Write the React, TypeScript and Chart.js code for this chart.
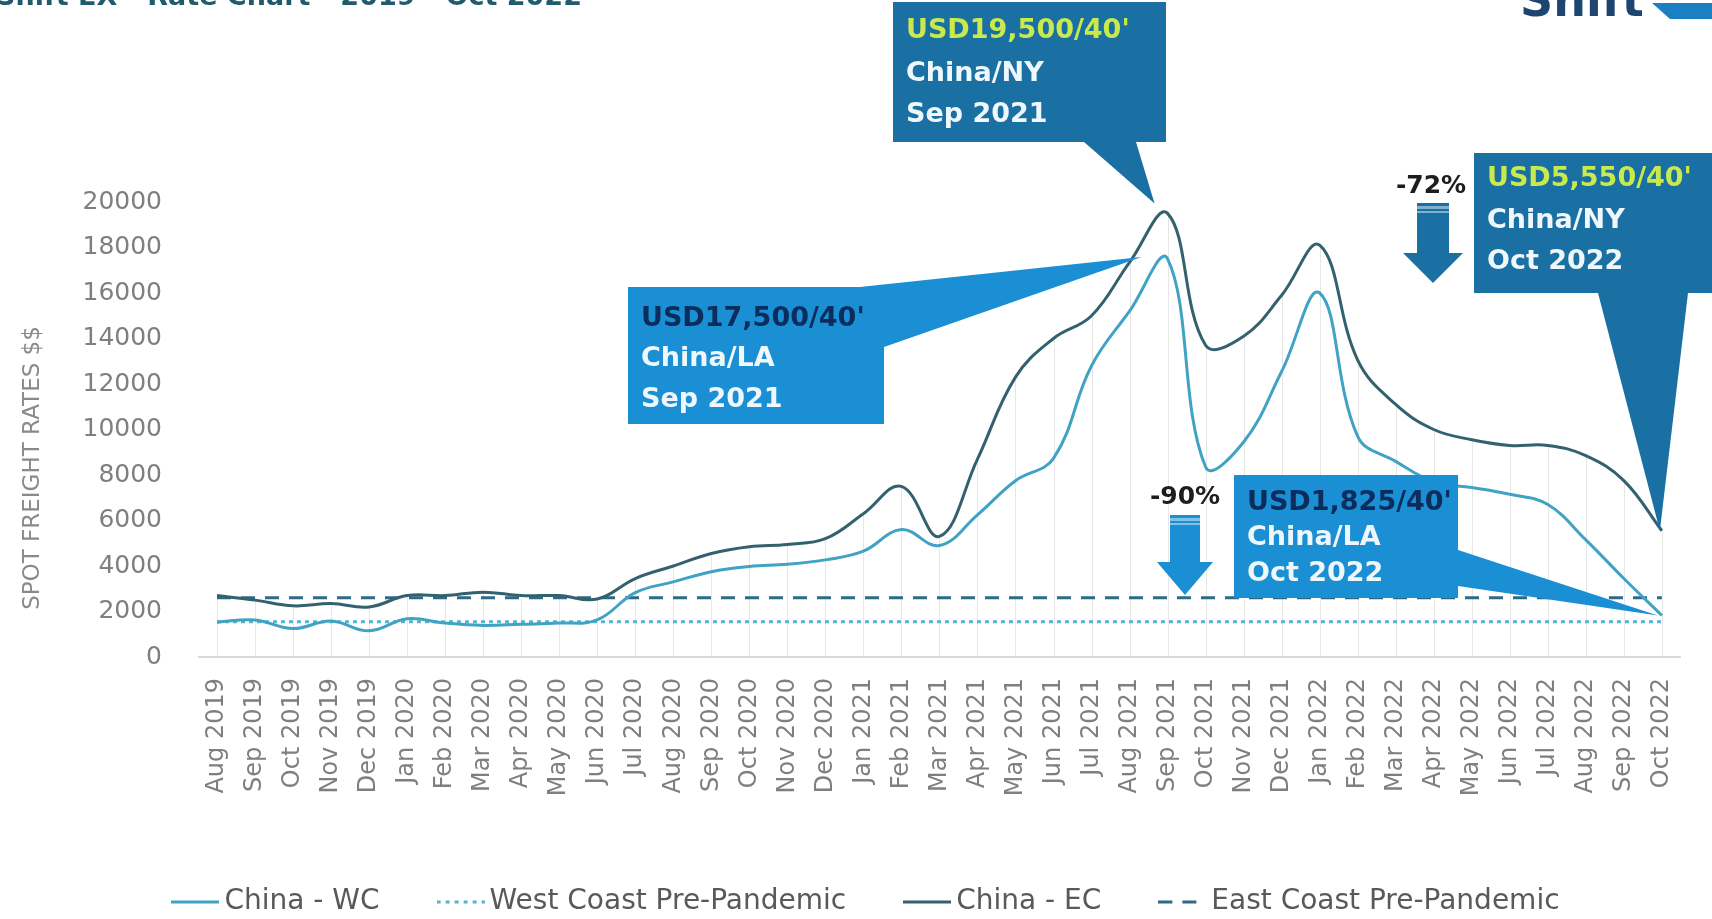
import React, { useEffect, useRef } from "react";
import { Chart, registerables } from "chart.js";

Chart.register(...registerables);

// ---------- DATA ----------
const MONTHS = [
  "Aug 2019", "Sep 2019", "Oct 2019", "Nov 2019", "Dec 2019",
  "Jan 2020", "Feb 2020", "Mar 2020", "Apr 2020", "May 2020", "Jun 2020",
  "Jul 2020", "Aug 2020", "Sep 2020", "Oct 2020", "Nov 2020", "Dec 2020",
  "Jan 2021", "Feb 2021", "Mar 2021", "Apr 2021", "May 2021", "Jun 2021",
  "Jul 2021", "Aug 2021", "Sep 2021", "Oct 2021", "Nov 2021", "Dec 2021",
  "Jan 2022", "Feb 2022", "Mar 2022", "Apr 2022", "May 2022", "Jun 2022",
  "Jul 2022", "Aug 2022", "Sep 2022", "Oct 2022",
];

const CHINA_WC = [
  1530, 1630, 1250, 1580, 1150,
  1680, 1490, 1390, 1440, 1490, 1630,
  2830, 3300, 3750, 3980, 4080, 4270,
  4650, 5600, 4900, 6250, 7750, 8730,
  12800, 15200, 17500, 8350, 9450, 12550,
  16000, 9700, 8600, 7700, 7450, 7150,
  6700, 5150, 3450, 1825,
];

const CHINA_EC = [
  2700, 2500, 2250, 2350, 2200,
  2700, 2700, 2850, 2700, 2700, 2550,
  3450, 4000, 4550, 4850, 4950, 5200,
  6300, 7500, 5300, 8700, 12300, 14000,
  15000, 17350, 19500, 13700, 14100, 15900,
  18100, 13050, 11100, 10000, 9550, 9300,
  9300, 8850, 7750, 5550,
];

const WEST_COAST_PRE_PANDEMIC = 1550;
const EAST_COAST_PRE_PANDEMIC = 2600;

const SERIES_NAMES = ["China - WC", "West Coast Pre-Pandemic", "China - EC", "East Coast Pre-Pandemic"];
const Y_MIN = 0;
const Y_MAX = 20000;
const Y_STEP = 2000;

const TITLE = "Shift EX - Rate Chart - 2019 - Oct 2022";
const Y_TITLE = "SPOT FREIGHT RATES $$";

// ---------- STYLE ----------
const FONT = "DejaVu Sans";
const WC_COLOR = "#41a3c4";
const EC_COLOR = "#33616f";
const WC_PRE_COLOR = "#55b4d2";
const EC_PRE_COLOR = "#2c6a88";
const DARK_BLUE = "#1a6fa3";
const LIGHT_BLUE = "#1b8fd3";

type Callout = {
  lines: string[];
  firstColor: string;
  fill: string;
  month: string;
  series: "EC" | "WC";
  box: [number, number, number, number];
  p1: [number, number];
  p2: [number, number];
  tipDx: number;
  tipDy: number;
  lineYs: number[];
};

const CALLOUTS: Callout[] = [
  {
    lines: ["USD19,500/40'", "China/NY", "Sep 2021"],
    firstColor: "#c9ea4c",
    fill: DARK_BLUE,
    month: "Sep 2021",
    series: "EC",
    box: [893, 2, 273, 140],
    p1: [1084, 142],
    p2: [1136, 142],
    tipDx: -13,
    tipDy: -10,
    lineYs: [31, 74, 115],
  },
  {
    lines: ["USD17,500/40'", "China/LA", "Sep 2021"],
    firstColor: "#0b2c5c",
    fill: LIGHT_BLUE,
    month: "Sep 2021",
    series: "WC",
    box: [628, 287, 256, 137],
    p1: [860, 287],
    p2: [884, 347],
    tipDx: -26,
    tipDy: -2,
    lineYs: [319, 359, 400],
  },
  {
    lines: ["USD5,550/40'", "China/NY", "Oct 2022"],
    firstColor: "#c9ea4c",
    fill: DARK_BLUE,
    month: "Oct 2022",
    series: "EC",
    box: [1474, 153, 260, 140],
    p1: [1598, 293],
    p2: [1688, 293],
    tipDx: -2,
    tipDy: 0,
    lineYs: [179, 221, 262],
  },
  {
    lines: ["USD1,825/40'", "China/LA", "Oct 2022"],
    firstColor: "#0b2c5c",
    fill: LIGHT_BLUE,
    month: "Oct 2022",
    series: "WC",
    box: [1234, 475, 224, 123],
    p1: [1458, 550],
    p2: [1458, 586],
    tipDx: -4,
    tipDy: 0,
    lineYs: [503, 538, 574],
  },
];

function drawArrow(ctx: CanvasRenderingContext2D, cx: number, top: number, shaftHW: number, headY: number, headHW: number, tipY: number, color: string) {
  ctx.fillStyle = color;
  ctx.beginPath();
  ctx.moveTo(cx - shaftHW, top);
  ctx.lineTo(cx + shaftHW, top);
  ctx.lineTo(cx + shaftHW, headY);
  ctx.lineTo(cx + headHW, headY);
  ctx.lineTo(cx, tipY);
  ctx.lineTo(cx - headHW, headY);
  ctx.lineTo(cx - shaftHW, headY);
  ctx.closePath();
  ctx.fill();
  ctx.fillStyle = "rgba(255,255,255,0.45)";
  ctx.fillRect(cx - shaftHW, top + 3, shaftHW * 2, 3);
  ctx.fillRect(cx - shaftHW, top + 8, shaftHW * 2, 2);
}

function makeSample(color: string, lineWidth: number, dash: number[]): HTMLCanvasElement {
  const c = document.createElement("canvas");
  c.width = 48;
  c.height = 8;
  const g = c.getContext("2d")!;
  g.strokeStyle = color;
  g.lineWidth = lineWidth;
  g.setLineDash(dash);
  g.beginPath();
  g.moveTo(0, 4);
  g.lineTo(48, 4);
  g.stroke();
  return c;
}

const decorPlugin = {
  id: "decor",
  afterLayout(chart: any) {
    if (chart.legend) {
      chart.legend.left += 27;
      chart.legend.right += 27;
    }
  },
  beforeDatasetsDraw(chart: any) {
    const { ctx, scales } = chart;
    const xs = scales.x;
    const ys = scales.y;
    ctx.save();
    ctx.strokeStyle = "#e6e6e6";
    ctx.lineWidth = 1;
    const base = ys.getPixelForValue(0);
    MONTHS.forEach((_, i) => {
      const top = ys.getPixelForValue(Math.max(CHINA_EC[i], CHINA_WC[i]));
      const x = Math.round(xs.getPixelForValue(i)) + 0.5;
      ctx.beginPath();
      ctx.moveTo(x, base);
      ctx.lineTo(x, top);
      ctx.stroke();
    });
    ctx.restore();
  },
  afterDraw(chart: any) {
    const { ctx, scales } = chart;
    const xs = scales.x;
    const ys = scales.y;
    ctx.save();

    // cut-off title
    ctx.font = `bold 27px ${FONT}`;
    ctx.fillStyle = "#1f5a6d";
    ctx.textAlign = "left";
    ctx.textBaseline = "alphabetic";
    ctx.fillText(TITLE, -4, 5);

    // cut-off logo
    ctx.font = `bold 46px ${FONT}`;
    ctx.fillStyle = "#1c4570";
    ctx.fillText("Shift", 1520, 16);
    ctx.fillStyle = "#1a80c2";
    ctx.beginPath();
    ctx.moveTo(1652, 3);
    ctx.lineTo(1712, 3);
    ctx.lineTo(1712, 19);
    ctx.lineTo(1670, 19);
    ctx.closePath();
    ctx.fill();

    // y axis title
    ctx.save();
    ctx.translate(33, 468);
    ctx.rotate(-Math.PI / 2);
    ctx.font = `23px ${FONT}`;
    ctx.fillStyle = "#8a8a8a";
    ctx.textAlign = "center";
    ctx.textBaseline = "middle";
    ctx.fillText(Y_TITLE, 0, 0);
    ctx.restore();

    // callouts
    for (const c of CALLOUTS) {
      const i = MONTHS.indexOf(c.month);
      const v = (c.series === "EC" ? CHINA_EC : CHINA_WC)[i];
      const tx = xs.getPixelForValue(i) + c.tipDx;
      const ty = ys.getPixelForValue(v) + c.tipDy;
      ctx.fillStyle = c.fill;
      ctx.beginPath();
      ctx.moveTo(c.p1[0], c.p1[1]);
      ctx.lineTo(tx, ty);
      ctx.lineTo(c.p2[0], c.p2[1]);
      ctx.closePath();
      ctx.fill();
      const [bx, by, bw, bh] = c.box;
      ctx.fillRect(bx, by, bw, bh);
      ctx.font = `bold 27px ${FONT}`;
      ctx.textAlign = "left";
      ctx.textBaseline = "middle";
      c.lines.forEach((t, k) => {
        ctx.fillStyle = k === 0 ? c.firstColor : "#eef7fb";
        ctx.fillText(t, bx + 13, c.lineYs[k]);
      });
    }

    // percentage arrows
    ctx.font = `bold 25px ${FONT}`;
    ctx.fillStyle = "#1d1d1d";
    ctx.textAlign = "center";
    ctx.textBaseline = "middle";
    ctx.fillText("-90%", 1185, 497);
    ctx.fillText("-72%", 1431, 186);
    drawArrow(ctx, 1185, 515, 15, 562, 28, 595, LIGHT_BLUE);
    drawArrow(ctx, 1433, 203, 16, 253, 30, 283, DARK_BLUE);

    ctx.restore();
  },
};

export default function App() {
  const ref = useRef<HTMLCanvasElement | null>(null);

  useEffect(() => {
    if (!ref.current) return;
    const samples = [
      makeSample(WC_COLOR, 3, []),
      makeSample(WC_PRE_COLOR, 3, [4, 5]),
      makeSample(EC_COLOR, 3, []),
      makeSample(EC_PRE_COLOR, 3, [14, 10]),
    ];
    const chart = new Chart(ref.current, {
      type: "line",
      data: {
        labels: MONTHS,
        datasets: [
          {
            label: SERIES_NAMES[0],
            data: CHINA_WC,
            borderColor: WC_COLOR,
            backgroundColor: WC_COLOR,
            borderWidth: 3,
            tension: 0.4,
            pointRadius: 0,
          },
          {
            label: SERIES_NAMES[1],
            data: MONTHS.map(() => WEST_COAST_PRE_PANDEMIC),
            borderColor: WC_PRE_COLOR,
            backgroundColor: WC_PRE_COLOR,
            borderWidth: 3,
            borderDash: [4, 4],
            pointRadius: 0,
          },
          {
            label: SERIES_NAMES[2],
            data: CHINA_EC,
            borderColor: EC_COLOR,
            backgroundColor: EC_COLOR,
            borderWidth: 3,
            tension: 0.4,
            pointRadius: 0,
          },
          {
            label: SERIES_NAMES[3],
            data: MONTHS.map(() => EAST_COAST_PRE_PANDEMIC),
            borderColor: EC_PRE_COLOR,
            backgroundColor: EC_PRE_COLOR,
            borderWidth: 3,
            borderDash: [14, 10],
            pointRadius: 0,
          },
        ],
      },
      options: {
        responsive: false,
        animation: false,
        events: [],
        layout: { padding: { top: 202, right: 26, left: 0, bottom: 0 } },
        plugins: {
          legend: {
            position: "bottom",
            labels: {
              usePointStyle: true,
              pointStyleWidth: 30,
              padding: 66,
              color: "#595959",
              font: { family: FONT, size: 28 },
              generateLabels: (ch: any) => {
                const items = (Chart as any).defaults.plugins.legend.labels.generateLabels(ch);
                items.forEach((it: any, i: number) => {
                  it.pointStyle = samples[i];
                });
                return items;
              },
            },
          },
          tooltip: { enabled: false },
        },
        scales: {
          x: {
            offset: true,
            grid: { display: false, drawTicks: false },
            border: { display: false },
            ticks: {
              autoSkip: false,
              minRotation: 90,
              maxRotation: 90,
              padding: 21,
              color: "#7f7f7f",
              font: { family: FONT, size: 24 },
            },
            afterFit: (s: any) => {
              s.height = 165;
            },
          },
          y: {
            min: Y_MIN,
            max: Y_MAX,
            ticks: {
              stepSize: Y_STEP,
              padding: 36,
              color: "#7f7f7f",
              font: { family: FONT, size: 25 },
              callback: (v: any) => String(v),
            },
            grid: {
              drawTicks: false,
              lineWidth: 2,
              color: (c: any) => (c.tick && c.tick.value === 0 ? "#d9d9d9" : "rgba(0,0,0,0)"),
            },
            border: { display: false },
            afterFit: (s: any) => {
              s.width = 198;
            },
          },
        },
      },
      plugins: [decorPlugin],
    });
    return () => chart.destroy();
  }, []);

  return (
    <div style={{ position: "fixed", left: 0, top: 0, width: 1712, height: 919, overflow: "hidden", background: "#ffffff" }}>
      <canvas ref={ref} width={1712} height={926} style={{ display: "block" }} />
    </div>
  );
}
